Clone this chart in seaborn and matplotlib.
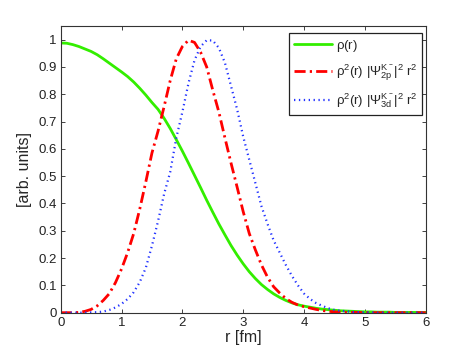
import matplotlib
matplotlib.use("Agg")
import matplotlib.pyplot as plt
import seaborn as sns
import numpy as np
import pandas as pd

r = [round(0.1 * i, 1) for i in range(61)]

rho = [0.988, 0.987, 0.982, 0.975, 0.966, 0.957, 0.945, 0.930, 0.914, 0.898,
       0.882, 0.865, 0.845, 0.822, 0.797, 0.770, 0.745, 0.712, 0.675, 0.634,
       0.592, 0.548, 0.503, 0.458, 0.412, 0.368, 0.325, 0.285, 0.246, 0.211,
       0.179, 0.150, 0.125, 0.103, 0.085, 0.069, 0.056, 0.045, 0.036, 0.029,
       0.024, 0.020, 0.016, 0.013, 0.011, 0.009, 0.007, 0.006, 0.005, 0.004,
       0.003, 0.003, 0.002, 0.002, 0.002, 0.001, 0.001, 0.001, 0.001, 0.001,
       0.001]

psi2p = [0.0, 0.0, 0.0, 0.001, 0.005, 0.012, 0.025, 0.045, 0.070, 0.110,
         0.160, 0.220, 0.290, 0.380, 0.480, 0.585, 0.665, 0.755, 0.850, 0.930,
         0.975, 0.998, 0.990, 0.954, 0.900, 0.815, 0.735, 0.640, 0.548, 0.460,
         0.370, 0.290, 0.230, 0.175, 0.130, 0.095, 0.072, 0.052, 0.038, 0.028,
         0.022, 0.017, 0.012, 0.008, 0.005, 0.003, 0.002, 0.001, 0.001, 0.001,
         0.0, 0.0, 0.0, 0.0, 0.0, 0.0, 0.0, 0.0, 0.0, 0.0,
         0.0]

psi3d = [0.0, 0.0, 0.0, 0.0, 0.0, 0.001, 0.002, 0.004, 0.010, 0.019,
         0.032, 0.050, 0.075, 0.112, 0.165, 0.245, 0.335, 0.435, 0.515, 0.640,
         0.735, 0.840, 0.925, 0.975, 0.998, 0.997, 0.970, 0.915, 0.830, 0.745,
         0.645, 0.560, 0.475, 0.390, 0.325, 0.265, 0.220, 0.175, 0.135, 0.100,
         0.070, 0.050, 0.035, 0.025, 0.016, 0.010, 0.007, 0.005, 0.003, 0.002,
         0.001, 0.001, 0.0, 0.0, 0.0, 0.0, 0.0, 0.0, 0.0, 0.0,
         0.0]

labels = [r'$\rho$(r)',
          r'$\rho^2$(r) $|\Psi^{K^-}_{2p}|^2$ r$^2$',
          r'$\rho^2$(r) $|\Psi^{K^-}_{3d}|^2$ r$^2$']

xticks = [0, 1, 2, 3, 4, 5, 6]
yticks = [0, 0.1, 0.2, 0.3, 0.4, 0.5, 0.6, 0.7, 0.8, 0.9, 1]
ytick_labels = ['0', '0.1', '0.2', '0.3', '0.4', '0.5', '0.6', '0.7', '0.8', '0.9', '1']

sns.set_style("ticks")
plt.rcParams['font.family'] = ['Liberation Sans', 'DejaVu Sans']
plt.rcParams['mathtext.default'] = 'regular'
plt.rcParams['mathtext.fontset'] = 'custom'
plt.rcParams['mathtext.rm'] = 'Liberation Sans'
plt.rcParams['mathtext.it'] = 'Liberation Sans'

fig = plt.figure(figsize=(4.69, 3.52), dpi=100)
ax = fig.add_axes([0.1294, 0.1117, 0.7783, 0.8143])

df = pd.DataFrame({'r': r, 'rho': rho, 'p2': psi2p, 'd3': psi3d})

sns.lineplot(data=df, x='r', y='rho', ax=ax, color='#33ee00', lw=2.0,
             label=labels[0])
sns.lineplot(data=df, x='r', y='p2', ax=ax, color='#ff0000', lw=2.0,
             label=labels[1], dashes=False)
sns.lineplot(data=df, x='r', y='d3', ax=ax, color='#2233ff', lw=1.6,
             label=labels[2], dashes=False)
lines = ax.get_lines()
lines[1].set_dashes([4.0, 1.5, 0.8, 1.5])
lines[2].set_dashes([0.6, 1.6])

ax.set_xlim(0, 6)
ax.set_ylim(0, 1.05)
ax.set_xticks(xticks)
ax.set_xticklabels([str(t) for t in xticks], fontsize=9.5)
ax.set_yticks(yticks)
ax.set_yticklabels(ytick_labels, fontsize=9.5)
ax.tick_params(direction='in', top=True, right=True, length=3, width=0.6,
               colors='#222222', pad=3)
for s in ax.spines.values():
    s.set_visible(True)
    s.set_linewidth(0.8)
    s.set_color('#333333')

ax.set_xlabel('r [fm]', fontsize=11.5, labelpad=1)
ax.set_ylabel('[arb. units]', fontsize=11.5, labelpad=4)

leg = ax.legend(loc='upper right', bbox_to_anchor=(0.998, 0.985), fontsize=9.5,
                frameon=True, fancybox=False, framealpha=1, edgecolor='#222222',
                handlelength=2.9, handletextpad=0.3, borderpad=0.35,
                labelspacing=0.65, borderaxespad=0.2)
leg.get_frame().set_linewidth(0.9)

fig.savefig('out.png', dpi=100)
